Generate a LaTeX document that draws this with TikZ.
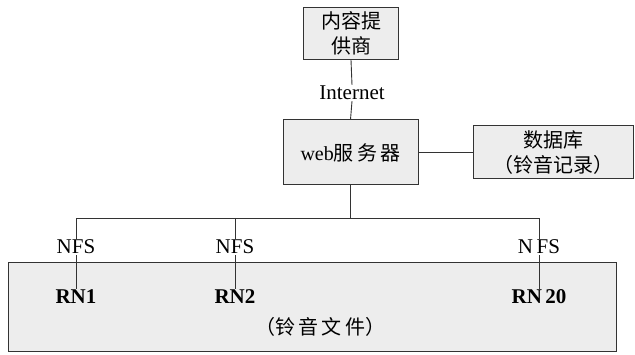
\documentclass[tikz,border=0pt]{standalone}
\usepackage{fontspec}
\setmainfont{Liberation Serif}
\newfontfamily\cjk{Noto Sans CJK SC}
\begin{document}
\begin{tikzpicture}[x=1pt,y=1pt,
  boxstyle/.style={draw=black!80,line width=1pt,fill=black!7,inner sep=0pt},
  lbl/.style={inner sep=1pt,font=\fontsize{21}{23}\selectfont},
  rnlbl/.style={inner sep=1pt,font=\fontsize{21}{23}\selectfont\bfseries},
  cjkbig/.style={font=\cjk\fontsize{20}{25}\selectfont},
  conn/.style={draw=black!80,line width=0.9pt}]
\useasboundingbox (0,0) rectangle (635,354);
% boxes
\node[boxstyle,cjkbig,minimum width=95pt,minimum height=52pt,align=center] (cp) at (351,320.5) {内容提\\供商};
\node[lbl] (inet) at (352,261) {Internet};
\node[boxstyle,minimum width=135pt,minimum height=65pt,font=\fontsize{20}{24}\selectfont] (web) at (350.5,201.5) {web{\cjk 服\,务\,器}};
\node[boxstyle,cjkbig,minimum width=160pt,minimum height=53pt,align=center] (db) at (553,201.5) {数据库\\（铃音记录）};
\node[boxstyle,minimum width=608pt,minimum height=89pt] (files) at (312,47.5) {};
\node[cjkbig,inner sep=0pt] (ftxt) at (320,27) {（铃\,音\,文\,件）};
% bus
\coordinate (bus) at (350.5,136);
\coordinate (b1) at (76,136);
\coordinate (b2) at (235,136);
\coordinate (b3) at (539,136);
\node[lbl] (nfs1) at (76,107) {NFS};
\node[lbl] (nfs2) at (235,107) {NFS};
\node[lbl] (nfs3) at (539,107) {N\,FS};
\node[rnlbl] (rn1) at (76,57) {RN1};
\node[rnlbl] (rn2) at (235,57) {RN2};
\node[rnlbl] (rn3) at (539,57) {RN\,20};
% connectors
\draw[conn] (cp.south) -- (inet.north);
\draw[conn] (inet.south) -- (web.north);
\draw[conn] (web.east) -- (db.west);
\draw[conn] (web.south) -- (bus);
\draw[conn] (nfs1.north) -- (b1) -- (b3) -- (nfs3.north);
\draw[conn] (b2) -- (nfs2.north);
\draw[conn] (nfs1.south) -- (rn1.north);
\draw[conn] (nfs2.south) -- (rn2.north);
\draw[conn] (nfs3.south) -- (rn3.north);
\end{tikzpicture}
\end{document}
